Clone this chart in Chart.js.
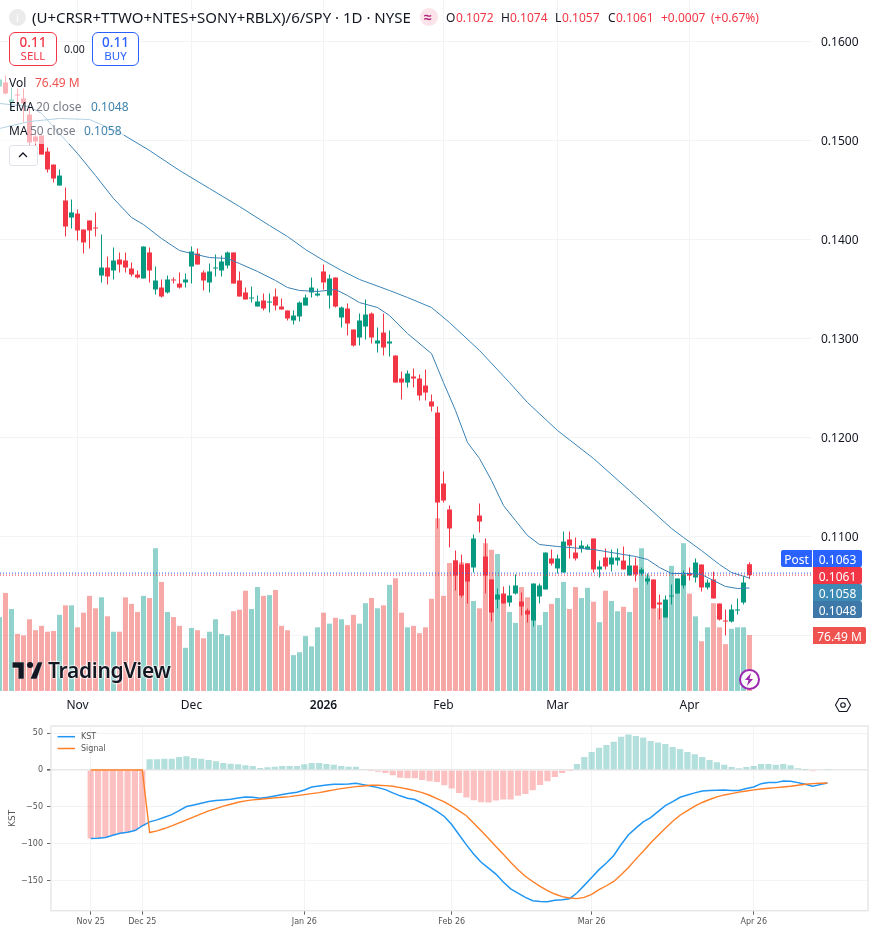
<!DOCTYPE html>
<html><head><meta charset="utf-8">
<script src="https://cdn.jsdelivr.net/npm/chart.js@4"></script>
<style>
html,body{margin:0;padding:0;background:#fff;width:874px;height:932px;overflow:hidden}
body{position:relative;font-family:"Noto Sans",sans-serif;color:#131722}
canvas{position:absolute;left:0}
#main{top:0}
#kst{top:720px;filter:blur(.45px)}
.t{position:absolute;white-space:nowrap;line-height:16px;font-size:12px}
.b{position:absolute}
.tag{position:absolute;left:813px;width:49px;height:17px;line-height:19px;color:#fff;font-size:12px;text-align:center;border-radius:0 2px 2px 0}
</style></head><body>
<canvas id="main" width="874" height="712"></canvas>
<canvas id="kst" width="874" height="212"></canvas>

<div class="b" style="left:0;top:72px;width:78px;height:24px;background:rgba(255,255,255,.62)"></div>
<div class="b" style="left:0;top:96px;width:131px;height:24px;background:rgba(255,255,255,.62)"></div>
<div class="b" style="left:0;top:120px;width:124px;height:24px;background:rgba(255,255,255,.62)"></div>

<div class="b" style="left:9px;top:9px;width:17px;height:17px;border-radius:50%;background:#ebebeb"></div>
<div class="t" style="left:16px;top:10px;color:#fff;font-size:11px">i</div>
<div class="t" id="title" style="left:32px;top:9px;font-size:15px">(U+CRSR+TTWO+NTES+SONY+RBLX)/6/SPY · 1D · NYSE</div>
<div class="b" style="left:420px;top:8px;width:18px;height:18px;border-radius:50%;background:#fbe3ea"></div>
<div class="t" style="left:424px;top:8px;font-size:14px;line-height:18px;color:#b0247a;font-weight:700">≈</div>
<div class="t" style="left:446px;top:10px">O</div><div class="t" style="left:456px;top:10px;color:#f23645">0.1072</div>
<div class="t" style="left:501px;top:10px">H</div><div class="t" style="left:510px;top:10px;color:#f23645">0.1074</div>
<div class="t" style="left:555px;top:10px">L</div><div class="t" style="left:562px;top:10px;color:#f23645">0.1057</div>
<div class="t" style="left:608px;top:10px">C</div><div class="t" style="left:616px;top:10px;color:#f23645">0.1061</div>
<div class="t" style="left:661px;top:10px;color:#f23645">+0.0007</div>
<div class="t" style="left:711px;top:10px;color:#f23645">(+0.67%)</div>

<div class="b" style="left:9px;top:32px;width:46px;height:32px;border:1px solid #f23645;border-radius:6px;background:#fff"></div>
<div class="t" style="left:9px;width:48px;text-align:center;top:34px;font-size:13.5px;font-weight:500;color:#f23645">0.11</div>
<div class="t" style="left:9px;width:48px;text-align:center;top:48px;color:#f23645;font-size:11.5px">SELL</div>
<div class="t" style="left:64px;top:41px;font-size:10.5px">0.00</div>
<div class="b" style="left:92px;top:32px;width:45px;height:32px;border:1px solid #2962ff;border-radius:6px;background:#fff"></div>
<div class="t" style="left:92px;width:47px;text-align:center;top:34px;font-size:13.5px;font-weight:500;color:#2962ff">0.11</div>
<div class="t" style="left:92px;width:47px;text-align:center;top:48px;color:#2962ff;font-size:11.5px">BUY</div>

<div class="t" style="left:9px;top:75px">Vol</div><div class="t" style="left:35px;top:75px;color:#ef5350">76.49 M</div>
<div class="t" style="left:9px;top:99px">EMA</div><div class="t" style="left:36px;top:99px;color:#787b86">20 close</div><div class="t" style="left:91px;top:99px;color:#3f83ad">0.1048</div>
<div class="t" style="left:9px;top:123px">MA</div><div class="t" style="left:30px;top:123px;color:#787b86">50 close</div><div class="t" style="left:84px;top:123px;color:#3f83ad">0.1058</div>
<div class="b" style="left:9px;top:145px;width:27px;height:19px;border:1px solid #e0e3eb;border-radius:3px;background:#fff"></div>
<svg class="b" style="left:17px;top:151px" width="12" height="8" viewBox="0 0 12 8"><path d="M2 6l4-4 4 4" fill="none" stroke="#131722" stroke-width="1.3"/></svg>

<div class="b" style="left:781px;top:550px;width:31px;height:17px;background:#2962ff;border-radius:2px 0 0 2px"></div>
<div class="t" style="left:781px;top:550px;width:31px;text-align:center;line-height:19px;color:#fff">Post</div>
<div class="tag" style="top:550px;background:#2962ff">0.1063</div>
<div class="tag" style="top:567px;background:#f23645">0.1061</div>
<div class="tag" style="top:584px;background:#3d8ab5">0.1058</div>
<div class="tag" style="top:601px;background:#3d78a8">0.1048</div>
<div class="tag" style="top:627px;width:53px;background:#ef5350">76.49 M</div>

<svg class="b" style="left:12px;top:662px" width="31" height="17" viewBox="0 0 36 20"><path d="M14 0H0v7h7v13h7V0Zm15 20h-8L30 0h6l-7 20Z" fill="#131722" stroke="#fff" stroke-width=".6"/><circle cx="21" cy="3.6" r="3.6" fill="#131722"/></svg>
<div class="t" style="left:48px;top:658px;font-size:21px;line-height:24px;font-weight:600;letter-spacing:-.3px;color:#131722;text-shadow:0 0 2px #fff,0 0 2px #fff,0 0 2px #fff">TradingView</div>

<div class="b" style="left:739px;top:669px;width:17px;height:17px;border:2px solid #9c27b0;border-radius:50%;background:rgba(255,255,255,.9)"></div>
<svg class="b" style="left:742px;top:672px" width="14" height="15" viewBox="0 0 14 15"><path d="M9 1 3 8h3.5L5 14l6-7H7.5Z" fill="#9c27b0"/></svg>
<svg class="b" style="left:834px;top:696px" width="18" height="18" viewBox="0 0 18 18"><path d="M5.2 2.5h7.6L16.5 9l-3.7 6.5H5.2L1.5 9Z" fill="none" stroke="#131722" stroke-width="1.1"/><circle cx="9" cy="9" r="2.3" fill="none" stroke="#131722" stroke-width="1.1"/></svg>

<script>
/* ---------- price pane values, one entry per session ---------- */
const opens=[0.15545,0.15586,0.15384,0.15465,0.15424,0.15262,0.15040,0.15050,0.14889,0.14757,
0.14545,0.14394,0.14222,0.14262,0.14101,0.14192,0.14121,0.13636,0.13717,0.13687,
0.13798,0.13788,0.13707,0.13646,0.13606,0.13869,0.13495,0.13515,0.13465,0.13596,
0.13555,0.13566,0.13727,0.13858,0.13667,0.13566,0.13707,0.13687,0.13737,0.13869,
0.13586,0.13465,0.13404,0.13323,0.13384,0.13363,0.13424,0.13323,0.13283,0.13182,
0.13222,0.13333,0.13465,0.13434,0.13677,0.13434,0.13616,0.13212,0.13303,0.13091,
0.13010,0.13121,0.13252,0.12949,0.13060,0.12949,0.12828,0.12596,0.12555,0.12616,
0.12596,0.12525,0.12364,0.12252,0.11535,0.11273,0.10757,0.10717,0.10727,0.10687,
0.11212,0.10798,0.10566,0.10363,0.10424,0.10333,0.10424,0.10343,0.10252,0.10151,
0.10394,0.10465,0.10778,0.10677,0.10636,0.10970,0.10838,0.10879,0.10869,0.10980,
0.10667,0.10788,0.10717,0.10757,0.10757,0.10606,0.10707,0.10626,0.10545,0.10566,
0.10333,0.10182,0.10394,0.10424,0.10505,0.10626,0.10586,0.10717,0.10485,0.10566,
0.10323,0.10151,0.10141,0.10252,0.10333,0.1072];
const highs=[0.15677,0.15656,0.15535,0.15525,0.15525,0.15333,0.15081,0.15050,0.14929,0.14757,
0.14707,0.14525,0.14404,0.14303,0.14101,0.14192,0.14273,0.14050,0.13828,0.13919,
0.13869,0.13869,0.13768,0.13687,0.13929,0.13919,0.13727,0.13596,0.13636,0.13616,
0.13667,0.13656,0.13929,0.13909,0.13687,0.13757,0.13848,0.13838,0.13879,0.13869,
0.13677,0.13515,0.13525,0.13434,0.13454,0.13454,0.13505,0.13404,0.13283,0.13283,
0.13374,0.13444,0.13616,0.13505,0.13747,0.13646,0.13616,0.13323,0.13353,0.13091,
0.13252,0.13394,0.13262,0.13111,0.13252,0.13081,0.12828,0.12667,0.12677,0.12697,
0.12636,0.12687,0.12434,0.12313,0.11656,0.11313,0.10858,0.10818,0.10727,0.11020,
0.11333,0.10980,0.10566,0.10475,0.10495,0.10505,0.10616,0.10434,0.10273,0.10525,
0.10525,0.10838,0.10869,0.10818,0.11050,0.11050,0.10990,0.10959,0.10919,0.10980,
0.10757,0.10879,0.10869,0.10879,0.10899,0.10818,0.10788,0.10687,0.10626,0.10566,
0.10414,0.10404,0.10515,0.10576,0.10656,0.10687,0.10778,0.10717,0.10566,0.10646,
0.10323,0.10263,0.10313,0.10374,0.10596,0.1074];
const lows=[0.15505,0.15465,0.15303,0.15384,0.15182,0.14959,0.14949,0.14858,0.14677,0.14576,
0.14545,0.14030,0.14111,0.13990,0.13858,0.13909,0.14030,0.13566,0.13545,0.13596,
0.13667,0.13667,0.13626,0.13606,0.13606,0.13566,0.13444,0.13414,0.13454,0.13555,
0.13505,0.13515,0.13555,0.13747,0.13485,0.13465,0.13626,0.13626,0.13707,0.13555,
0.13424,0.13394,0.13363,0.13323,0.13283,0.13262,0.13283,0.13293,0.13182,0.13141,
0.13172,0.13333,0.13414,0.13424,0.13495,0.13303,0.13313,0.13111,0.13030,0.12919,
0.12929,0.12990,0.12949,0.12858,0.12828,0.12818,0.12555,0.12384,0.12505,0.12505,
0.12374,0.12374,0.12262,0.11081,0.11343,0.10889,0.10454,0.10384,0.10323,0.10636,
0.11040,0.10424,0.10141,0.10273,0.10323,0.10293,0.10414,0.10202,0.10131,0.10091,
0.10323,0.10465,0.10707,0.10626,0.10636,0.10778,0.10757,0.10838,0.10869,0.10636,
0.10586,0.10667,0.10646,0.10707,0.10667,0.10606,0.10545,0.10606,0.10515,0.10273,
0.10161,0.10182,0.10313,0.10424,0.10475,0.10555,0.10535,0.10444,0.10465,0.10374,
0.10151,0.10000,0.10131,0.10212,0.10313,0.1057];
const closes=[0.15616,0.15475,0.15414,0.15454,0.15374,0.14980,0.14990,0.14858,0.14707,0.14616,
0.14646,0.14131,0.14273,0.14091,0.13970,0.14091,0.14111,0.13717,0.13626,0.13788,
0.13747,0.13717,0.13646,0.13616,0.13929,0.13687,0.13586,0.13424,0.13596,0.13586,
0.13515,0.13596,0.13879,0.13747,0.13586,0.13677,0.13717,0.13778,0.13869,0.13555,
0.13424,0.13394,0.13414,0.13374,0.13303,0.13374,0.13333,0.13293,0.13202,0.13232,
0.13363,0.13414,0.13515,0.13454,0.13566,0.13606,0.13323,0.13313,0.13151,0.12929,
0.13182,0.13242,0.13010,0.12980,0.12909,0.12970,0.12555,0.12555,0.12646,0.12596,
0.12424,0.12454,0.12313,0.11343,0.11363,0.11081,0.10606,0.10404,0.10545,0.10980,
0.11151,0.10606,0.10232,0.10414,0.10323,0.10404,0.10505,0.10293,0.10212,0.10525,
0.10505,0.10838,0.10727,0.10778,0.10949,0.10909,0.10778,0.10909,0.10899,0.10667,
0.10697,0.10697,0.10788,0.10788,0.10667,0.10707,0.10616,0.10667,0.10576,0.10273,
0.10313,0.10363,0.10404,0.10576,0.10616,0.10606,0.10737,0.10485,0.10535,0.10374,
0.10161,0.10141,0.10263,0.10263,0.10535,0.1061];
const volumes=[101,134,112,78,76,98,83,89,81,82,
104,117,117,87,107,130,113,128,102,81,
81,128,119,108,130,127,195,149,108,101,
89,59,86,83,72,81,98,78,76,109,
111,137,112,142,130,131,138,89,83,49,
53,75,61,87,107,92,100,98,90,104,
92,120,127,113,117,145,154,107,87,89,
79,87,126,236,130,175,179,176,175,123,
113,202,193,187,120,108,93,142,128,101,
90,108,119,127,149,112,142,127,141,122,
94,137,123,109,115,108,141,195,158,113,
113,101,171,134,202,133,102,68,87,120,
87,64,85,87,87,76.49];
const emaSessions=[0,5,7,10,13,16,19,22,24,27,30,32,35,38,40,43,46,48,50,53,56,58,60,63,65,68,72,74,76,78,80,82,84,86,88,90,93,97,99,102,106,108,110,112,115,117,119,121,123,125];
const ema20=[0.15374,0.15343,0.15273,0.15071,0.14869,0.14646,0.14414,0.14222,0.14151,0.14010,0.13889,0.13858,0.13818,0.13808,0.13757,0.13677,0.13586,0.13515,0.13485,0.13475,0.13495,0.13434,0.13363,0.13313,0.13232,0.13050,0.12848,0.12555,0.12273,0.11949,0.11788,0.11566,0.11313,0.11161,0.11010,0.10919,0.10899,0.10879,0.10869,0.10838,0.10798,0.10768,0.10687,0.10626,0.10626,0.10616,0.10555,0.10495,0.10475,0.1048];
const maSessions=[0,5,10,15,20,25,30,35,40,45,48,51,54,57,60,65,68,72,75,80,85,88,93,99,105,112,114,117,120,122,125];
const ma50=[0.15121,0.15192,0.15222,0.15212,0.15081,0.14899,0.14697,0.14515,0.14333,0.14141,0.14030,0.13899,0.13788,0.13687,0.13596,0.13485,0.13414,0.13313,0.13161,0.12879,0.12555,0.12353,0.12071,0.11788,0.11464,0.11081,0.10990,0.10858,0.10717,0.10636,0.1058];
const postPrice=0.1063, lastPrice=0.1061;
const priceTicks=[0.10,0.11,0.12,0.13,0.14,0.15,0.16];
const monthSessions=[13,32,54,74,93,115];
const monthLabels=['Nov','Dec','2026','Feb','Mar','Apr'];

/* ---------- KST pane values ---------- */
const kst=[-92.8,-92.3,-91.4,-88.3,-85.6,-84.2,-82,-75.7,-70.3,-67.6,-64,-60.4,-55,-49.5,-47.3,-45,-42.8,-41.4,-40.5,-39.6,-37.8,-36.5,-36.9,-38.3,-36.9,-35.1,-33.3,-31.5,-30.2,-27,-23,-21.6,-20.3,-19.4,-19.4,-18.9,-18,-19.8,-21.6,-23.9,-26.6,-31,-35,-38.3,-40,-45,-50,-56,-63,-73.9,-87.8,-101.4,-114,-125,-133,-141,-151.8,-161,-166.7,-172.5,-177,-178,-178.4,-176.6,-175.7,-174.3,-166.7,-156.3,-145.5,-135,-126,-115.8,-101,-87.8,-78.8,-70.3,-64.4,-56.3,-48.2,-42.8,-36.9,-33.8,-31,-28.4,-27.9,-27.5,-27,-27.9,-27.9,-25.2,-23,-18.5,-17.1,-17.1,-14.9,-15.3,-17.1,-19.4,-22,-19.8,-17.6];
const signal=[0,0,0,0,0,0,0,0,-84.7,-82.4,-79.3,-75.7,-71.6,-67.6,-63.5,-59.5,-55.4,-52.3,-49,-46.4,-43.7,-41.9,-40.5,-39.6,-38.7,-37.8,-36.9,-36,-34.7,-33.3,-32,-30.6,-28.8,-27,-25.2,-23.9,-22.5,-21.6,-20.7,-20.7,-21.2,-22,-23.9,-25.7,-27.9,-30.6,-34.2,-38.7,-43.2,-49,-55.4,-62,-72,-82.4,-92.8,-103.6,-114,-125,-135,-144,-151,-157.7,-163.5,-168,-171.6,-173.4,-174.3,-172.5,-168.5,-162,-156.8,-151,-142,-132,-120.7,-110,-99,-88.7,-78.8,-69.4,-61.3,-55,-49,-44,-40,-36.5,-33.8,-32,-30,-28.4,-27,-25.7,-24.8,-23.9,-23,-22,-20.7,-19.4,-18.5,-18,-17.6];
const hist=[-92.8,-92.3,-91.4,-88.3,-85.6,-84.2,-82,-75.7,14.4,14.4,15.3,15.3,17.6,18.5,16.2,15.3,13.5,11.7,9.5,8.6,7.7,6.3,5.4,2.7,3.6,4.5,5.4,5.4,5.4,7.7,9.5,9.5,8.1,7.2,5.4,4.5,4.5,1.4,-0.4,-2.3,-4,-7.2,-10.4,-11.3,-11.3,-13.5,-15.3,-16.2,-20.7,-25.2,-31,-37.4,-41,-43.7,-44,-41.4,-40,-40,-35,-32.4,-27.5,-20.3,-15.3,-9.5,-4,-0.5,8.1,17.6,24.3,30.2,33.8,38.3,45,48.2,46,44.1,39.2,37.4,35.1,31,28.4,24.3,21.2,17.6,13.5,10.4,7.2,4,2.3,4,5.4,8.1,8.1,7.2,8.1,6.3,2.3,0.3,-1.8,-0.9,1.4];
const kstTicks=[-150,-100,-50,0,50];
const kstDateSessions=[0,7,29,49,68,90];
const kstDateLabels=['Nov 25','Dec 25','Jan 26','Feb 26','Mar 26','Apr 26'];

const UP='#089981',DOWN='#f23645',UPV='rgba(38,166,154,.5)',DOWNV='rgba(239,83,80,.5)';
const isUp=i=>closes[i]>=opens[i];
const noPad=s=>{s.paddingTop=0;s.paddingBottom=0;s.paddingLeft=0;s.paddingRight=0;};
const GRID='#f2f3f5';
const xFrom=0.08333, xTo=135.25;

new Chart(document.getElementById('main'),{
  data:{datasets:[
    {type:'bar',order:10,yAxisID:'v',grouped:false,barThickness:5,inflateAmount:0,
     data:volumes.map((v,i)=>({x:i,y:v})),backgroundColor:volumes.map((v,i)=>isUp(i)?UPV:DOWNV)},
    {type:'bar',order:9,grouped:false,barThickness:1,inflateAmount:0,
     data:highs.map((h,i)=>({x:i,y:[lows[i],h]})),backgroundColor:highs.map((h,i)=>isUp(i)?UP:DOWN)},
    {type:'bar',order:8,grouped:false,barThickness:5,inflateAmount:0,
     data:opens.map((o,i)=>({x:i,y:[o,closes[i]]})),backgroundColor:opens.map((o,i)=>isUp(i)?UP:DOWN)},
    {type:'line',order:3,data:emaSessions.map((s,i)=>({x:s,y:ema20[i]})),borderColor:'#3a80b2',borderWidth:1,pointRadius:0,tension:0},
    {type:'line',order:2,data:maSessions.map((s,i)=>({x:s,y:ma50[i]})),borderColor:'#3a86b8',borderWidth:1,pointRadius:0,tension:0},
    {type:'line',order:1,data:[{x:xFrom,y:postPrice},{x:xTo,y:postPrice}],borderColor:'#2962ff',borderWidth:1,borderDash:[1,2],pointRadius:0},
    {type:'line',order:1,data:[{x:xFrom,y:lastPrice},{x:xTo,y:lastPrice}],borderColor:'#f23645',borderWidth:1,borderDash:[1,2],pointRadius:0}
  ]},
  options:{responsive:false,animation:false,devicePixelRatio:1,
    layout:{padding:0},
    plugins:{legend:{display:false},tooltip:{enabled:false}},
    scales:{
      x:{type:'linear',offset:false,min:xFrom,max:xTo,
        afterBuildTicks:s=>{s.ticks=monthSessions.map(v=>({value:v}));},
        afterFit:s=>{s.height=21;noPad(s);},
        border:{display:false},
        grid:{offset:false,color:GRID,lineWidth:1,drawTicks:false},
        ticks:{autoSkip:false,maxRotation:0,padding:7,color:'#131722',
          font:c=>({family:'"Noto Sans"',size:12,weight:c.tick&&c.tick.value===54?'600':'400'}),
          callback:v=>monthLabels[monthSessions.indexOf(v)]}},
      y:{position:'right',min:0.094394,max:0.164192,
        afterBuildTicks:s=>{s.ticks=priceTicks.map(v=>({value:v}));},
        afterFit:s=>{s.width=63;noPad(s);},
        border:{display:false},
        grid:{color:GRID,lineWidth:1,drawTicks:false},
        ticks:{padding:10,labelOffset:1.5,color:'#131722',font:{family:'"Noto Sans"',size:12},callback:v=>v.toFixed(4)}},
      v:{display:false,position:'left',min:0,max:944}
    }
  }
});

const legendPlugin={id:'kstFrame',
  afterDraw(c){const g=c.ctx,a=c.chartArea;g.save();
    g.strokeStyle='#e6e6e6';g.lineWidth=1.4;g.strokeRect(a.left,a.top,a.right-a.left,a.bottom-a.top);
    g.lineWidth=1.5;
    g.strokeStyle='#2196f3';g.beginPath();g.moveTo(57.5,16.7);g.lineTo(75,16.7);g.stroke();
    g.strokeStyle='#ff7f27';g.beginPath();g.moveTo(57.5,28.5);g.lineTo(75,28.5);g.stroke();
    g.fillStyle='#555';g.font='8px "DejaVu Sans"';g.textBaseline='middle';
    g.fillText('KST',81,16.7);g.fillText('Signal',81,28.5);g.restore();}};

new Chart(document.getElementById('kst'),{
  plugins:[legendPlugin],
  data:{datasets:[
    {type:'bar',order:5,grouped:false,barThickness:6.2,inflateAmount:0,data:hist.map((v,i)=>({x:i,y:v})),
     backgroundColor:hist.map(v=>v>=0?'rgba(38,166,154,.35)':'rgba(250,90,90,.38)')},
    {type:'line',order:2,data:kst.map((v,i)=>({x:i,y:v})),borderColor:'#2196f3',borderWidth:1.5,pointRadius:0,tension:0},
    {type:'line',order:1,data:signal.map((v,i)=>({x:i,y:v})),borderColor:'#ff7f27',borderWidth:1.4,pointRadius:0,tension:0}
  ]},
  options:{responsive:false,animation:false,devicePixelRatio:1,
    layout:{padding:{top:6,right:6,left:0,bottom:0}},
    plugins:{legend:{display:false},tooltip:{enabled:false}},
    scales:{
      x:{type:'linear',offset:false,min:-5.389,max:105.51,
        afterBuildTicks:s=>{s.ticks=kstDateSessions.map(v=>({value:v}));},
        afterFit:s=>{s.height=21.3;noPad(s);},
        border:{display:false},
        grid:{offset:false,color:'#f3f3f3',lineWidth:1,tickLength:4,tickColor:'#666'},
        ticks:{autoSkip:false,maxRotation:0,padding:2,color:'#555',font:{family:'"DejaVu Sans"',size:8},
          callback:v=>kstDateLabels[kstDateSessions.indexOf(v)]}},
      y:{min:-190.6,max:59.6,
        afterBuildTicks:s=>{s.ticks=kstTicks.map(v=>({value:v}));},
        afterFit:s=>{s.width=51;noPad(s);},
        border:{display:false},
        grid:{color:c=>c.tick&&c.tick.value===0?'#e8e8e8':'#f3f3f3',lineWidth:c=>c.tick&&c.tick.value===0?1.6:1,tickLength:4,tickColor:'#666'},
        title:{display:true,text:'KST',color:'#555',font:{family:'"DejaVu Sans"',size:9},padding:{top:7,bottom:0}},
        ticks:{padding:4,color:'#555',font:{family:'"DejaVu Sans"',size:8},
          callback:v=>v<0?'\u2212'+Math.abs(v):String(v)}}
    }
  }
});
</script>
</body></html>
